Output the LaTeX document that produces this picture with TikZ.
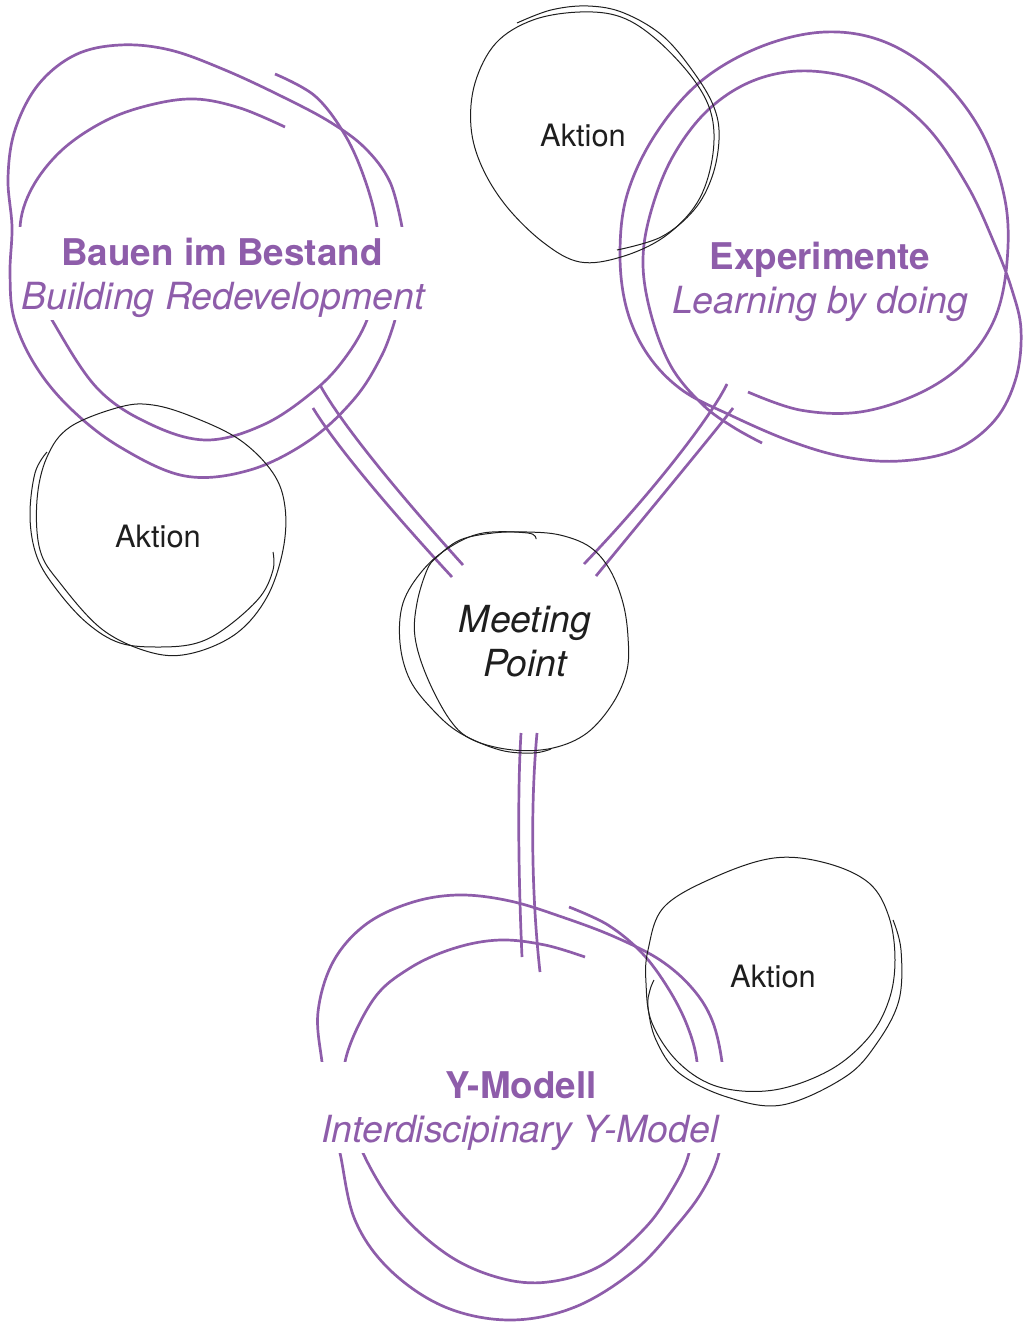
\documentclass[tikz,border=0pt]{standalone}
\usepackage{fontspec}
\setmainfont{TeX Gyre Heros}
\definecolor{purp}{HTML}{8E5DAA}
\definecolor{ink}{HTML}{1E1E1E}
\begin{document}
\begin{tikzpicture}[x=1pt,y=-1pt,
  pstroke/.style={draw=purp, line width=2.7pt},
  kstroke/.style={draw=ink, line width=1pt},
  title/.style={text=purp, font=\fontsize{36.8}{40}\selectfont\bfseries, anchor=base, inner sep=0pt},
  subtitle/.style={text=purp, font=\fontsize{37.4}{40}\selectfont\itshape, anchor=base, inner sep=0pt},
  mptext/.style={text=ink, font=\fontsize{37.3}{40}\selectfont\itshape, anchor=base, inner sep=0pt},
  aktion/.style={text=ink, font=\fontsize{30.8}{34}\selectfont, anchor=base, inner sep=0pt}]
\useasboundingbox (0,0) rectangle (1032,1322);

% ---------- Bauen im Bestand (purple loops)
\draw[pstroke] plot[smooth, tension=0.6] coordinates {(275,74) (315,96) (345,135) (365,180) (377,227) (378,275) (367,320) (345,358) (315,390) (265,424) (207,440) (150,424) (97,388) (52,320) (28,272) (20,228) (32,188) (62,150) (105,121) (150,105) (195,99) (240,108) (285,127)};
\draw[pstroke] plot[smooth, tension=0.6] coordinates {(402,227) (390,182) (365,148) (330,122) (283,97) (225,70) (170,50) (120,45) (75,55) (38,85) (15,130) (8,178) (12,227) (10,273) (14,318) (35,365) (70,408) (120,447) (185,476) (250,470) (310,440) (355,398) (382,355) (395,320)};

% ---------- Experimente (purple spiral)
\draw[pstroke] plot[smooth, tension=0.6] coordinates {(748,392) (800,410) (860,412) (920,393) (965,362) (995,318) (1007,262) (1005,200) (982,133) (940,78) (885,42) (825,32) (760,47) (700,82) (655,135) (627,195) (620,255) (627,310) (648,355) (682,390) (730,415) (790,441) (845,457) (900,461) (955,450) (995,420) (1016,378) (1021,330) (1012,290) (995,245) (967,185) (925,125) (870,85) (810,71) (755,80) (708,110) (672,158) (650,215) (643,265) (652,318) (672,368) (703,405) (733,427) (762,443)};

% ---------- Y-Modell (purple loops)
\draw[pstroke] plot[smooth, tension=0.6] coordinates {(723,1100) (722,1062) (712,1020) (692,988) (660,960) (615,937) (565,918) (510,901) (458,895) (410,903) (365,925) (333,962) (318,1012) (322,1062) (330,1110) (340,1153) (355,1220) (390,1270) (445,1307) (510,1320) (575,1307) (635,1270) (677,1225) (703,1190) (719,1153) (722,1110)};
\draw[pstroke] plot[smooth, tension=0.6] coordinates {(585,957) (545,945) (500,940) (455,948) (410,968) (373,1000) (345,1062) (352,1110) (363,1153) (398,1210) (448,1255) (500,1278) (548,1282) (600,1266) (645,1228) (672,1190) (689,1153) (695,1100) (697,1062) (687,1025) (668,988) (642,953) (608,925) (569,907)};

% ---------- connectors (double strokes)
\coordinate (ba1) at (320,385); \coordinate (mb1) at (463,565);
\coordinate (ba2) at (313,408); \coordinate (mb2) at (452,577);
\coordinate (ex1) at (727,384); \coordinate (me1) at (584,564);
\coordinate (ex2) at (733,408); \coordinate (me2) at (596,576);
\coordinate (my1) at (521,733); \coordinate (ym1) at (522,957);
\coordinate (my2) at (537,733); \coordinate (ym2) at (540,972);
\draw[pstroke] (ba1) .. controls (342,425) and (400,495) .. (mb1);
\draw[pstroke] (ba2) .. controls (336,446) and (392,512) .. (mb2);
\draw[pstroke] (ex1) .. controls (712,415) and (655,490) .. (me1);
\draw[pstroke] (ex2) .. controls (718,428) and (665,492) .. (me2);
\draw[pstroke] (my1) .. controls (517,800) and (519,890) .. (ym1);
\draw[pstroke] (my2) .. controls (530,810) and (532,900) .. (ym2);

% ---------- white bands behind the titles
\fill[white] (18,227) rectangle (430,320);
\fill[white] (316,1062) rectangle (727,1153);

% ---------- Meeting Point (black)
\draw[kstroke] plot[smooth cycle, tension=0.6] coordinates {(427,570) (417,603) (415,637) (427,677) (450,720) (473,740) (513,750) (553,748) (587,733) (613,703) (627,670) (628,637) (623,603) (610,570) (590,547) (560,535) (527,532) (493,533) (460,540) (437,557)};
\draw[kstroke] plot[smooth, tension=0.6] coordinates {(536,539) (528,533) (483,533) (450,547) (423,570) (403,603) (400,643) (410,680) (433,710) (460,733) (500,750) (533,753) (551,749)};

% ---------- Aktion circles (black)
\draw[kstroke] plot[smooth cycle, tension=0.6] coordinates {(120,407) (70,427) (47,457) (37,500) (40,550) (60,583) (103,630) (153,653) (193,653) (237,633) (267,597) (283,550) (285,507) (273,473) (240,440) (193,417) (153,405)};
\draw[kstroke] plot[smooth, tension=0.6] coordinates {(47,452) (35,473) (30,517) (37,557) (57,590) (87,623) (120,643) (160,647) (197,643) (227,627) (260,597) (273,570) (273,552)};

\draw[kstroke] plot[smooth cycle, tension=0.6] coordinates {(580,12) (533,20) (496,43) (475,83) (471,127) (482,167) (507,207) (544,243) (580,262) (621,257) (664,237) (697,203) (712,160) (712,117) (694,80) (657,40) (621,17)};
\draw[kstroke] plot[smooth, tension=0.6] coordinates {(517,23) (551,10) (588,6) (624,13) (664,37) (697,77) (715,110) (719,140) (712,177) (694,210) (661,237) (617,250)};

\draw[kstroke] plot[smooth cycle, tension=0.6] coordinates {(648,950) (664,907) (715,877) (774,858) (826,863) (869,883) (889,917) (895,960) (889,1000) (869,1037) (830,1070) (774,1090) (719,1087) (679,1063) (652,1023) (646,983)};
\draw[kstroke] plot[smooth, tension=0.6] coordinates {(893,920) (901,950) (899,1000) (877,1043) (845,1077) (782,1105) (727,1097) (679,1073) (656,1040) (648,1007) (650,990) (654,980)};

% ---------- texts
\node[title] (bauenT) at (222,265) {Bauen im Bestand};
\node[subtitle] (bauenS) at (223,309) {Building Redevelopment};
\node[title] (expT) at (820,269) {Experimente};
\node[subtitle] (expS) at (820,313) {Learning by doing};
\node[title] (yT) at (521,1098) {Y-Modell};
\node[subtitle] (yS) at (520,1142) {Interdiscipinary Y-Model};
\node[mptext] (mp1) at (525,632) {Meeting};
\node[mptext] (mp2) at (525,676) {Point};
\node[aktion] (ak1) at (583,146) {Aktion};
\node[aktion] (ak2) at (158,547) {Aktion};
\node[aktion] (ak3) at (773,987) {Aktion};
\end{tikzpicture}
\end{document}
